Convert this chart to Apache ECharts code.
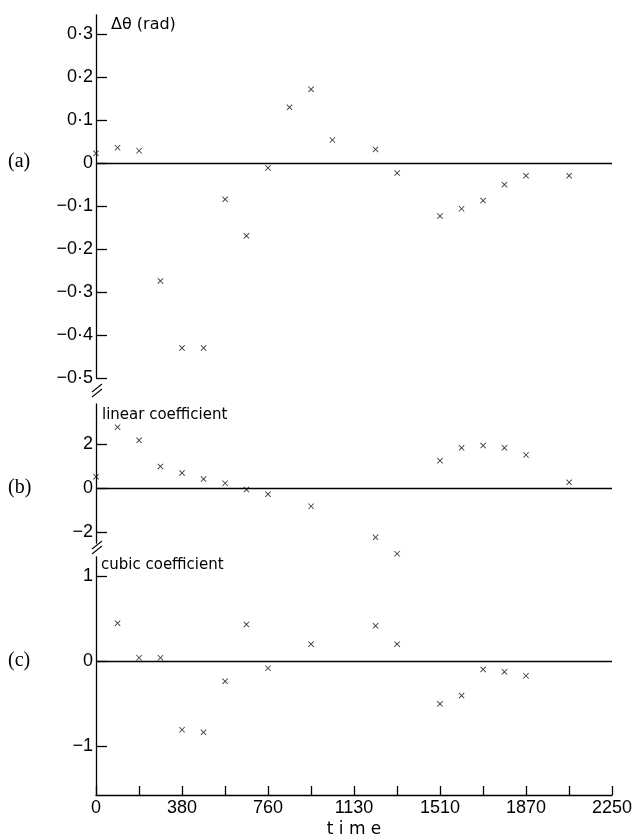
<!DOCTYPE html>
<html>
<head>
<meta charset="utf-8">
<script src="https://cdn.jsdelivr.net/npm/echarts@6.0.0/dist/echarts.min.js"></script>
<style>
  html, body { margin: 0; padding: 0; background: #fff; }
  #chart { width: 639px; height: 839px; }
</style>
</head>
<body>
<div id="chart"></div>
<script>
// sample times (shared by all three panels)
const times = [0, 94, 188, 281, 375, 469, 563, 656, 750, 844, 938, 1031, 1219, 1313, 1500, 1594, 1688, 1781, 1875, 2063];

// (a) phase deviation, rad
const thetaDev = [0.023, 0.036, 0.029, -0.274, -0.43, -0.43, -0.084, -0.169, -0.011, 0.130,
  0.172, 0.054, 0.032, -0.023, -0.123, -0.106, -0.087, -0.050, -0.029, -0.029];
// (b) linear coefficient (null = no point)
const linearCoef = [0.53, 2.79, 2.19, 1.0, 0.70, 0.42, 0.23, -0.06, -0.27, null,
  -0.82, null, -2.24, -2.99, 1.26, 1.85, 1.95, 1.85, 1.52, 0.27];
// (c) cubic coefficient
const cubicCoef = [null, 0.445, 0.038, 0.038, -0.81, -0.84, -0.24, 0.43, -0.086, null,
  0.198, null, 0.414, 0.198, -0.505, -0.407, -0.10, -0.128, -0.174, null];

// ticks
const yTicksA = [-0.5, -0.4, -0.3, -0.2, -0.1, 0, 0.1, 0.2, 0.3];
const yTicksB = [-2, 0, 2];
const yTicksC = [-1, 0, 1];
const xTickValues = [0, 187.5, 375, 562.5, 750, 937.5, 1125, 1312.5, 1500, 1687.5, 1875, 2062.5, 2250];
const xLabelValues = [0, 375, 750, 1125, 1500, 1875, 2250];
const xLabelText = ['0', '380', '760', '1130', '1510', '1870', '2250'];

const tickFont = "'Liberation Sans Narrow', 'Liberation Sans', sans-serif";
const titleFont = "'DejaVu Sans', sans-serif";

function pairs(vals) {
  return times.map((t, i) => vals[i] == null ? null : [t, vals[i]]).filter(Boolean);
}

// 0·3 style labels, with a real minus sign
function fmtY(v) {
  v = Math.round(v * 10) / 10;
  const s = String(Math.abs(v)).replace('.', '·');
  return (v < 0 ? '\u2212' : '') + s;
}

const cross = 'path://M0,1L1,0L5,4L9,0L10,1L6,5L10,9L9,10L5,6L1,10L0,9L4,5Z';
const ink = () => ({ color: '#000', width: 1.3 });

function hiddenX(i) {
  return { gridIndex: i, type: 'value', min: 0, max: 2250, show: false };
}

function yAxisFor(i, min, max, ticks, name, pad) {
  return {
    gridIndex: i, type: 'value', min, max,
    name, nameLocation: 'end', nameGap: pad.gap,
    nameTextStyle: { fontFamily: titleFont, fontSize: pad.size, color: '#000',
      align: 'left', verticalAlign: 'top', padding: [0, 0, 0, pad.left] },
    axisLine: { show: true, onZero: false, lineStyle: ink() },
    axisTick: { show: true, inside: true, length: 11, customValues: ticks, lineStyle: ink() },
    axisLabel: { customValues: ticks, formatter: fmtY, margin: 3,
      fontFamily: tickFont, fontSize: 18, color: '#000' },
    splitLine: { show: false }
  };
}

function scatter(i, vals) {
  return {
    type: 'scatter', xAxisIndex: i, yAxisIndex: i,
    data: pairs(vals), symbol: cross, symbolSize: 6, clip: false,
    itemStyle: { color: '#000' },
    // horizontal zero line across the panel
    markLine: { silent: true, symbol: 'none', label: { show: false },
      lineStyle: { color: '#000', width: 1.3, type: 'solid' },
      data: [{ yAxis: 0 }] }
  };
}

function breakMark(x, y) {
  return [
    { type: 'line', shape: { x1: x - 5, y1: y + 4, x2: x + 5, y2: y - 4 }, style: { stroke: '#000', lineWidth: 1.1 } },
    { type: 'line', shape: { x1: x - 5, y1: y + 9, x2: x + 5, y2: y + 1 }, style: { stroke: '#000', lineWidth: 1.1 } }
  ];
}

function panelLabel(txt, y) {
  return { type: 'text', left: 8, top: y - 11,
    style: { text: txt, fontFamily: "'Liberation Serif', serif", fontSize: 20, fill: '#000' } };
}

const chart = echarts.init(document.getElementById('chart'), null, { renderer: 'canvas' });

chart.setOption({
  animation: false,
  backgroundColor: '#fff',
  grid: [
    { left: 96, right: 27, top: 15, height: 363 },
    { left: 96, right: 27, top: 404, height: 139 },
    { left: 96, right: 27, top: 557, height: 241 }
  ],
  xAxis: [
    hiddenX(0),
    hiddenX(1),
    {
      gridIndex: 2, type: 'value', min: 0, max: 2250,
      name: 't i m e', nameLocation: 'middle', nameGap: 26,
      nameTextStyle: { fontFamily: titleFont, fontSize: 17, color: '#000' },
      axisLine: { show: true, onZero: false, lineStyle: ink() },
      axisTick: { show: true, inside: true, length: 9, customValues: xTickValues, lineStyle: ink() },
      axisLabel: { customValues: xLabelValues, margin: 4,
        formatter: v => xLabelText[xLabelValues.indexOf(v)],
        fontFamily: tickFont, fontSize: 18, color: '#000' },
      splitLine: { show: false }
    }
  ],
  yAxis: [
    yAxisFor(0, -0.5, 0.345, yTicksA, 'Δθ (rad)', { gap: -2, left: 15, size: 16 }),
    yAxisFor(1, -2.5, 3.85, yTicksB, 'linear coefficient', { gap: -4, left: 6, size: 15 }),
    yAxisFor(2, -1.578, 1.224, yTicksC, 'cubic coefficient', { gap: -1, left: 5, size: 15 })
  ],
  series: [
    scatter(0, thetaDev),
    scatter(1, linearCoef),
    scatter(2, cubicCoef)
  ],
  graphic: [
    ...breakMark(97, 388),
    ...breakMark(97, 545),
    panelLabel('(a)', 163),
    panelLabel('(b)', 489),
    panelLabel('(c)', 662)
  ]
});
</script>
</body>
</html>
